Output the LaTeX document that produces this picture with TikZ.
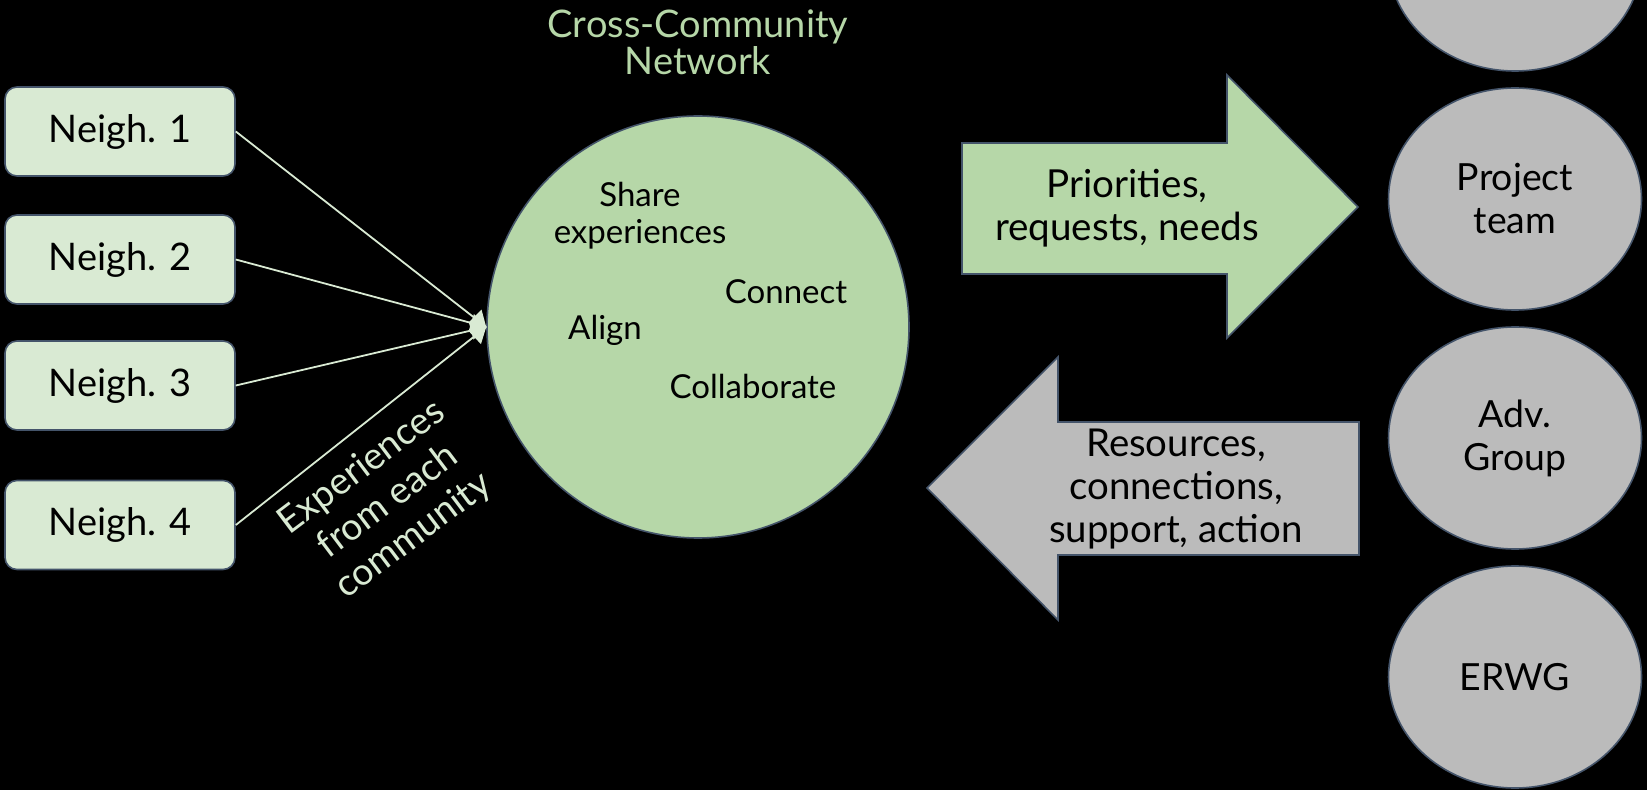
\documentclass[tikz,border=0pt]{standalone}
\usepackage{fontspec}
\setmainfont{Lato}
\usetikzlibrary{arrows.meta,shapes.geometric}
\definecolor{palegreen}{HTML}{D9EAD3}
\definecolor{leafgreen}{HTML}{B6D7A8}
\definecolor{slate}{HTML}{44546A}
\definecolor{stone}{HTML}{BBBBBB}
\begin{document}
\begin{tikzpicture}[x=0.5pt,y=-0.5pt,
  neigh/.style={draw=slate,fill=palegreen,rounded corners=6pt,line width=0.8pt,minimum width=115pt,minimum height=44.5pt,font=\fontsize{19}{21.5}\selectfont},
  group/.style={ellipse,draw=slate,fill=stone,line width=0.8pt,minimum width=126.5pt,minimum height=111pt,inner sep=0pt,align=center,font=\fontsize{18.7}{21.5}\selectfont},
  word/.style={font=\fontsize{16.5}{18.5}\selectfont,align=center,inner sep=0pt},
  link/.style={palegreen,line width=0.9pt},
  hub/.style={-{Diamond[length=9pt,width=15.5pt]}},
  bigarrow/.style={draw=slate,line width=0.8pt,line join=miter}]
\fill[black](0,0)rectangle(1647,790);
\useasboundingbox(0,0)rectangle(1647,790);
\clip(0,0)rectangle(1647,790);
\node[align=center,text=leafgreen,font=\fontsize{19}{18.5}\selectfont](title)at(698,42){Cross-Community\\Network};
\node[circle,draw=slate,fill=leafgreen,line width=0.8pt,minimum size=211pt,inner sep=0pt](net)at(698,327){};
\node[word](share)at(640,216){Share\\experiences};
\node[word](connect)at(786,292){Connect};
\node[word](align)at(605,330){Align};
\node[word](collab)at(753,386){Collaborate};
\node[neigh](n1)at(120,131.5){Neigh. 1};
\node[neigh](n2)at(120,259.5){Neigh. 2};
\node[neigh](n3)at(120,385.5){Neigh. 3};
\node[neigh](n4)at(120,525){Neigh. 4};
\draw[link](n1.east)--(net.west);
\draw[link,hub](n2.east)--(net.west);
\draw[link,hub](n3.east)--(net.west);
\draw[link](n4.east)--(net.west);
\node[align=center,text=palegreen,rotate=37,font=\fontsize{18.7}{21.5}\selectfont](exp)at(388,502){Experiences\\from each\\community};
% arrows between network and groups
\filldraw[bigarrow,fill=leafgreen](962,143)--(1227,143)--(1227,75)--(1358,207)--(1227,338)--(1227,274)--(962,274)--cycle;
\node[align=center,font=\fontsize{19.3}{21.5}\selectfont](ask)at(1127,208){Priorities,\\requests, needs};
\filldraw[bigarrow,fill=stone](927,488)--(1058,357)--(1058,422)--(1359,422)--(1359,555)--(1058,555)--(1058,620)--cycle;
\node[align=center,font=\fontsize{19.2}{21.5}\selectfont](give)at(1176,489){Resources,\\connections,\\support, action};
\node[group](g0)at(1515,-40){};
\node[group](g1)at(1515,199){Project\\team};
\node[group](g2)at(1515,438){Adv.\\Group};
\node[group](g3)at(1515,677){ERWG};
\end{tikzpicture}
\end{document}
